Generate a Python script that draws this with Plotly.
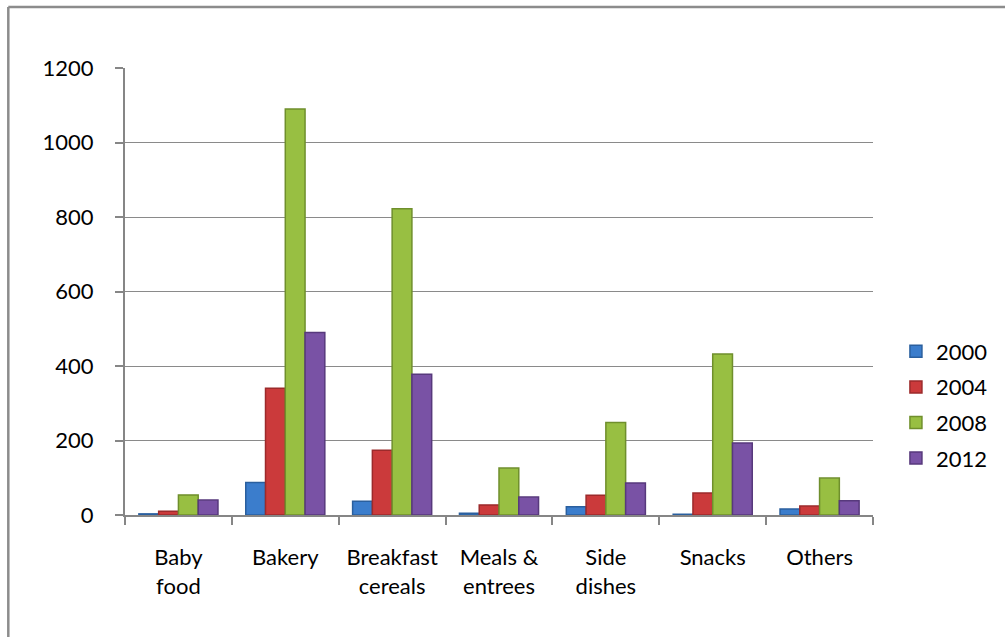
import plotly.graph_objects as go

categories = ["Baby<br>food", "Bakery", "Breakfast<br>cereals", "Meals &<br>entrees",
              "Side<br>dishes", "Snacks", "Others"]
years = ["2000", "2004", "2008", "2012"]
v2000 = [3, 87, 37, 5, 22, 2, 16]
v2004 = [10, 340, 174, 27, 53, 59, 24]
v2008 = [54, 1090, 822, 126, 248, 432, 99]
v2012 = [40, 490, 378, 48, 86, 193, 38]
series = [v2000, v2004, v2008, v2012]
colors = ["#3b7dcc", "#cb3a3b", "#98bf42", "#7952a5"]
edges = ["#2a5f9e", "#9c2a2b", "#6f8f2c", "#57397c"]
yticks = [0, 200, 400, 600, 800, 1000, 1200]

W, H = 1005, 637
L, R, T, B = 125, 130, 68, 122
pw, ph = W - L - R, H - T - B

def px_x(p):
    return (p - L) / pw

def px_y(p):
    return (H - B - p) / ph

fig = go.Figure()
for name, vals, c, e in zip(years, series, colors, edges):
    fig.add_trace(go.Bar(
        x=categories, y=vals, name=name, legendgroup=name,
        marker=dict(color=c, line=dict(color=e, width=1.5)),
    ))

font = "Lato, 'Open Sans', sans-serif"
fig.update_layout(
    width=W, height=H,
    margin=dict(l=L, r=R, t=T, b=B, pad=0),
    paper_bgcolor="white", plot_bgcolor="white",
    barmode="group", bargap=0.26, bargroupgap=0,
    font=dict(family=font, size=22, color="black"),
    showlegend=True,
    legend=dict(x=px_x(898), xanchor="left", y=px_y(405), yanchor="middle",
                font=dict(size=22, family=font), tracegroupgap=4,
                bgcolor="rgba(0,0,0,0)", itemwidth=30),
    xaxis=dict(showline=True, linecolor="#868686", linewidth=2,
               ticks="outside", tickson="boundaries", ticklen=8, tickwidth=2,
               tickcolor="#868686", showgrid=False, ticklabelstandoff=22,
               tickfont=dict(size=22)),
    yaxis=dict(range=[0, 1200], tickvals=yticks, showline=True, linecolor="#868686",
               linewidth=2, ticks="outside", ticklen=8, tickwidth=2, tickcolor="#868686",
               showgrid=True, gridcolor="#8a8a8a", gridwidth=1.2, zeroline=False,
               ticklabelstandoff=17, tickfont=dict(size=22)),
    shapes=[
        dict(type="line", xref="paper", yref="paper", x0=px_x(8), x1=px_x(W + 5),
             y0=px_y(7), y1=px_y(7), line=dict(color="#8c8c8c", width=2.5)),
        dict(type="line", xref="paper", yref="paper", x0=px_x(8), x1=px_x(8),
             y0=px_y(7), y1=px_y(H + 5), line=dict(color="#8c8c8c", width=2.5)),
    ],
)

fig.write_html("out.html")
